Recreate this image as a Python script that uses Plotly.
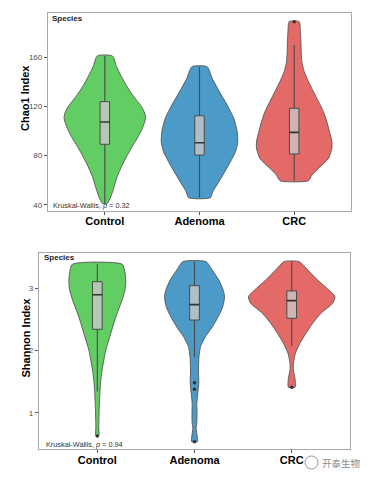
import plotly.graph_objects as go

# ---------------- data ----------------
groups = ["Control", "Adenoma", "CRC"]
group_pos = [1, 2, 3]
colors = ["#62CD62", "#4B9AC8", "#E46A68"]

# Chao1 violin profiles (value, half-width in category units)
chao_ctrl_y = [41.0, 46.5, 54.7, 62.8, 71.0, 79.2, 87.3, 95.5, 103.7, 110.5, 114.6, 120.0, 128.1, 136.3, 144.5, 152.6, 161.4]
chao_ctrl_w = [0.025, 0.063, 0.098, 0.130, 0.176, 0.229, 0.288, 0.352, 0.404, 0.430, 0.422, 0.388, 0.306, 0.235, 0.176, 0.124, 0.080]
chao_aden_y = [45.7, 50.6, 58.7, 66.9, 75.1, 83.2, 91.4, 99.6, 110.5, 121.4, 132.2, 143.1, 152.6]
chao_aden_w = [0.116, 0.140, 0.204, 0.267, 0.327, 0.380, 0.404, 0.398, 0.362, 0.292, 0.211, 0.134, 0.081]
chao_crc_y = [59.6, 64.2, 69.7, 77.8, 86.0, 91.4, 99.6, 107.7, 115.9, 124.1, 132.2, 140.4, 148.5, 156.7, 164.9, 173.0, 181.2, 189.4]
chao_crc_w = [0.151, 0.187, 0.257, 0.362, 0.398, 0.398, 0.373, 0.345, 0.309, 0.257, 0.204, 0.151, 0.106, 0.081, 0.074, 0.071, 0.066, 0.053]

# Chao1 box statistics: lower whisker, q1, median, q3, upper whisker
chao_low = [41.0, 45.7, 59.6]
chao_q1 = [89.3, 80.5, 81.4]
chao_med = [107.5, 90.6, 99.0]
chao_q3 = [124.1, 112.6, 118.7]
chao_high = [161.4, 152.6, 170.3]
chao_out_x = ["CRC"]
chao_out_y = [189.4]

# Shannon violin profiles
sha_ctrl_y = [0.625, 0.775, 1.043, 1.312, 1.526, 1.686, 1.847, 2.008, 2.169, 2.330, 2.490, 2.651, 2.812, 2.973, 3.106, 3.241, 3.386]
sha_ctrl_w = [0.015, 0.015, 0.019, 0.026, 0.036, 0.049, 0.067, 0.087, 0.118, 0.149, 0.180, 0.216, 0.255, 0.285, 0.293, 0.286, 0.257]
sha_aden_y = [0.534, 0.614, 0.749, 0.830, 0.990, 1.151, 1.312, 1.473, 1.686, 1.900, 2.061, 2.222, 2.383, 2.543, 2.704, 2.865, 2.973, 3.133, 3.294, 3.428]
sha_aden_w = [0.029, 0.028, 0.017, 0.024, 0.026, 0.024, 0.034, 0.044, 0.041, 0.046, 0.062, 0.113, 0.185, 0.244, 0.291, 0.309, 0.295, 0.250, 0.182, 0.120]
sha_crc_y = [1.408, 1.445, 1.553, 1.686, 1.794, 1.955, 2.116, 2.277, 2.437, 2.598, 2.759, 2.865, 2.973, 3.133, 3.294, 3.428]
sha_crc_w = [0.034, 0.038, 0.034, 0.017, 0.017, 0.038, 0.085, 0.147, 0.216, 0.301, 0.422, 0.445, 0.381, 0.267, 0.165, 0.079]

sha_low = [1.34, 1.89, 2.072]
sha_q1 = [2.341, 2.49, 2.518]
sha_med = [2.897, 2.737, 2.801]
sha_q3 = [3.106, 3.042, 2.957]
sha_high = [3.386, 3.428, 3.428]
sha_out_x = ["Control", "Adenoma", "Adenoma", "Adenoma", "CRC"]
sha_out_y = [0.625, 1.482, 1.376, 0.534, 1.408]

chao_ticks = [40, 80, 120, 160]
sha_ticks = [1, 2, 3]

# ---------------- figure ----------------
W, H = 373, 480
FONT = "Liberation Sans, Arial, sans-serif"
BOX_HALF = 0.05
fig = go.Figure()

box_fill = "rgba(200,200,200,0.8)"
edge = "#4a4a4a"


def add_violin(pos, ys, ws, color, xa, ya):
    xs = [pos + w for w in ws] + [pos - w for w in reversed(ws)]
    yy = list(ys) + list(reversed(ys))
    xs.append(xs[0])
    yy.append(yy[0])
    fig.add_trace(go.Scatter(x=xs, y=yy, mode="lines", fill="toself",
                             fillcolor=color, line=dict(color="#555555", width=0.9, shape="spline", smoothing=0.6),
                             xaxis=xa, yaxis=ya, hoverinfo="skip", showlegend=False))


def add_box(i, low, q1, med, q3, high, xa, ya):
    p = group_pos[i]
    # whiskers
    fig.add_trace(go.Scatter(x=[p, p, None, p, p], y=[low[i], q1[i], None, q3[i], high[i]],
                             mode="lines", line=dict(color=edge, width=1.1),
                             xaxis=xa, yaxis=ya, hoverinfo="skip", showlegend=False))
    # box
    fig.add_trace(go.Scatter(x=[p - BOX_HALF, p + BOX_HALF, p + BOX_HALF, p - BOX_HALF, p - BOX_HALF],
                             y=[q1[i], q1[i], q3[i], q3[i], q1[i]], mode="lines", fill="toself",
                             fillcolor=box_fill, line=dict(color=edge, width=1.0),
                             xaxis=xa, yaxis=ya, hoverinfo="skip", showlegend=False))
    # median
    fig.add_trace(go.Scatter(x=[p - BOX_HALF, p + BOX_HALF], y=[med[i], med[i]], mode="lines",
                             line=dict(color="#333333", width=1.6),
                             xaxis=xa, yaxis=ya, hoverinfo="skip", showlegend=False))


chao_profiles = [(chao_ctrl_y, chao_ctrl_w), (chao_aden_y, chao_aden_w), (chao_crc_y, chao_crc_w)]
sha_profiles = [(sha_ctrl_y, sha_ctrl_w), (sha_aden_y, sha_aden_w), (sha_crc_y, sha_crc_w)]

for i, (ys, ws) in enumerate(chao_profiles):
    add_violin(group_pos[i], ys, ws, colors[i], "x", "y")
for i in range(3):
    add_box(i, chao_low, chao_q1, chao_med, chao_q3, chao_high, "x", "y")
fig.add_trace(go.Scatter(x=[group_pos[groups.index(g)] for g in chao_out_x], y=chao_out_y, mode="markers",
                         marker=dict(color="#333333", size=3.5), xaxis="x", yaxis="y", showlegend=False))

for i, (ys, ws) in enumerate(sha_profiles):
    add_violin(group_pos[i], ys, ws, colors[i], "x2", "y2")
for i in range(3):
    add_box(i, sha_low, sha_q1, sha_med, sha_q3, sha_high, "x2", "y2")
fig.add_trace(go.Scatter(x=[group_pos[groups.index(g)] for g in sha_out_x], y=sha_out_y, mode="markers",
                         marker=dict(color="#333333", size=3.5), xaxis="x2", yaxis="y2", showlegend=False))

axis_common = dict(showline=True, mirror=True, linecolor="#a8a8a8", linewidth=1.3,
                   showgrid=False, zeroline=False, ticks="outside", ticklen=3,
                   tickcolor="#555555", tickwidth=1)
xcommon = dict(axis_common, range=[0.4, 3.6], tickvals=group_pos, ticktext=groups,
               ticklabelstandoff=-3,
               tickfont=dict(family=FONT, size=11, color="#000000", weight="bold"))
ycommon = dict(axis_common, tickfont=dict(family=FONT, size=8, color="#4d4d4d"))

fig.update_layout(
    width=W, height=H, margin=dict(l=0, r=0, t=0, b=0),
    paper_bgcolor="white", plot_bgcolor="white", showlegend=False,
    xaxis=dict(xcommon, domain=[48 / W, 351 / W], anchor="y"),
    yaxis=dict(ycommon, domain=[1 - 210.7 / H, 1 - 13.3 / H], range=[35.1, 196.2],
               tickvals=chao_ticks, anchor="x"),
    xaxis2=dict(xcommon, domain=[39 / W, 350 / W], anchor="y2"),
    yaxis2=dict(ycommon, domain=[1 - 449.3 / H, 1 - 252.7 / H], range=[0.412, 3.572],
                tickvals=sha_ticks, anchor="x2"),
)

ann = []
ann.append(dict(text="<b>Species</b>", x=50 / W, y=1 - 19 / H, font=dict(family=FONT, size=8, color="#222")))
ann.append(dict(text="<b>Species</b>", x=41.5 / W, y=1 - 257.5 / H, font=dict(family=FONT, size=8, color="#222")))
ann.append(dict(text="Kruskal-Wallis, <i>p</i> = 0.32", x=51 / W, y=1 - 205.5 / H,
                font=dict(family=FONT, size=7.3, color="#333")))
ann.append(dict(text="Kruskal-Wallis, <i>p</i> = 0.94", x=43.5 / W, y=1 - 444.5 / H,
                font=dict(family=FONT, size=7.3, color="#333")))
for a in ann:
    a.update(xref="paper", yref="paper", xanchor="left", yanchor="middle", showarrow=False)
ann.append(dict(text="<b>Chao1 Index</b>", x=25 / W, y=1 - 98 / H, textangle=-90,
                xref="paper", yref="paper", xanchor="center", yanchor="middle", showarrow=False,
                font=dict(family=FONT, size=11, color="#000")))
ann.append(dict(text="<b>Shannon Index</b>", x=25 / W, y=1 - 337.5 / H, textangle=-90,
                xref="paper", yref="paper", xanchor="center", yanchor="middle", showarrow=False,
                font=dict(family=FONT, size=11, color="#000")))
ann.append(dict(text="开泰生物", x=363 / W, y=1 - 463 / H, xref="paper", yref="paper",
                xanchor="right", yanchor="middle", showarrow=False,
                font=dict(family="Noto Sans CJK SC", size=9.5, color="#8a8a8a")))
fig.update_layout(annotations=ann)

fig.add_shape(type="circle", xref="paper", yref="paper",
              x0=305 / W, x1=318 / W, y0=1 - 469 / H, y1=1 - 456 / H,
              fillcolor="white", line=dict(color="#9a9a9a", width=1))

fig.write_html("out.html", config={"displayModeBar": False},
               post_script="document.body.style.margin='0px';")
